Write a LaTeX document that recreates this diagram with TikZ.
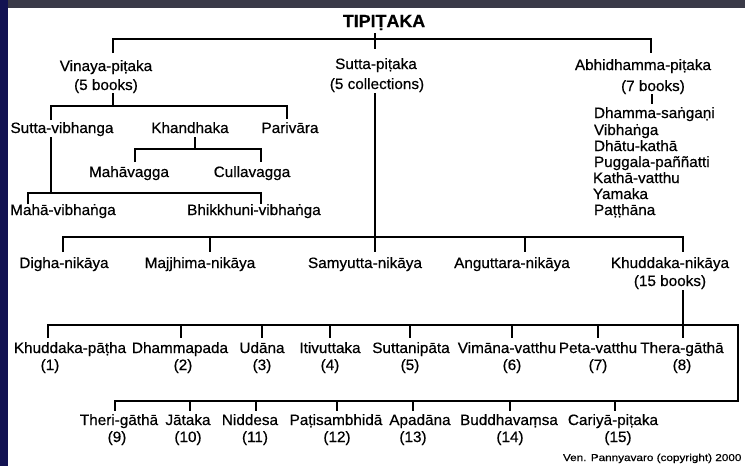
\documentclass[tikz,border=0pt]{standalone}
\usepackage{fontspec}
\setmainfont{Liberation Sans}[FakeStretch=1.02,FakeBold=0.5]
\definecolor{topbar}{RGB}{58,58,72}
\definecolor{leftbar}{RGB}{18,18,82}
\begin{document}
\begin{tikzpicture}[x=1pt,y=-1pt,line width=2.9pt,
  lbl/.style={font=\fontsize{15}{17}\selectfont,inner sep=0pt,outer sep=0pt,anchor=base},
  lst/.style={lbl,anchor=base west},
  ttl/.style={font=\bfseries\fontsize{17.5}{19}\selectfont,inner sep=0pt,outer sep=0pt,anchor=base},
  cpy/.style={font=\fontsize{10}{12}\selectfont,inner sep=0pt,outer sep=0pt,anchor=base west}]
\useasboundingbox (0,0) rectangle (745,466);
\fill[white] (0,0) rectangle (745,466);
\fill[topbar] (0,0) rectangle (745,8);
\fill[leftbar] (0,0) rectangle (8,466);

% texts
\node[ttl] (tip) at (384,27) {TIPIṬAKA};
\node[lbl] (vin) at (106,71) {Vinaya-piṭaka};
\node[lbl] (vinb) at (106,90) {(5 books)};
\node[lbl] (sut) at (376,69) {Sutta-piṭaka};
\node[lbl] (sutb) at (377,89) {(5 collections)};
\node[lbl] (abh) at (643,70) {Abhidhamma-piṭaka};
\node[lbl] (abhb) at (653,91) {(7 books)};
\node[lst] (a1) at (594,118) {Dhamma-saṅgaṇi};
\node[lst] (a2) at (594,135) {Vibhaṅga};
\node[lst] (a3) at (594,151) {Dhātu-kathā};
\node[lst] (a4) at (594,167) {Puggala-paññatti};
\node[lst] (a5) at (593,183) {Kathā-vatthu};
\node[lst] (a6) at (593,199) {Yamaka};
\node[lst] (a7) at (594,215) {Paṭṭhāna};

\node[lbl] (svb) at (62,133) {Sutta-vibhanga};
\node[lbl] (kha) at (190,133) {Khandhaka};
\node[lbl] (par) at (290,133) {Parivāra};
\node[lbl] (mhv) at (129,177) {Mahāvagga};
\node[lbl] (clv) at (252,177) {Cullavagga};
\node[lbl] (mvb) at (63,215) {Mahā-vibhaṅga};
\node[lbl] (bvb) at (254,215) {Bhikkhuni-vibhaṅga};

\node[lbl] (dig) at (64,268) {Digha-nikāya};
\node[lbl] (maj) at (200,268) {Majjhima-nikāya};
\node[lbl] (sam) at (365,268) {Samyutta-nikāya};
\node[lbl] (ang) at (512,268) {Anguttara-nikāya};
\node[lbl] (khu) at (670,268) {Khuddaka-nikāya};
\node[lbl] (khub) at (670,286) {(15 books)};

\node[lbl] (k1) at (70,353) {Khuddaka-pāṭha};
\node[lbl] (n1) at (50,370) {(1)};
\node[lbl] (k2) at (180,353) {Dhammapada};
\node[lbl] (n2) at (183,370) {(2)};
\node[lbl] (k3) at (262,353) {Udāna};
\node[lbl] (n3) at (262,370) {(3)};
\node[lbl] (k4) at (330,353) {Itivuttaka};
\node[lbl] (n4) at (330,370) {(4)};
\node[lbl] (k5) at (411,353) {Suttanipāta};
\node[lbl] (n5) at (410,370) {(5)};
\node[lbl] (k6) at (507,353) {Vimāna-vatthu};
\node[lbl] (n6) at (512,370) {(6)};
\node[lbl] (k7) at (598,353) {Peta-vatthu};
\node[lbl] (n7) at (598,370) {(7)};
\node[lbl] (k8) at (682,353) {Thera-gāthā};
\node[lbl] (n8) at (682,370) {(8)};

\node[lbl] (k9) at (119,425) {Theri-gāthā};
\node[lbl] (n9) at (117,442) {(9)};
\node[lbl] (k10) at (188,425) {Jātaka};
\node[lbl] (n10) at (188,442) {(10)};
\node[lbl] (k11) at (250,425) {Niddesa};
\node[lbl] (n11) at (255,442) {(11)};
\node[lbl] (k12) at (336,425) {Paṭisambhidā};
\node[lbl] (n12) at (337,442) {(12)};
\node[lbl] (k13) at (420,425) {Apadāna};
\node[lbl] (n13) at (413,442) {(13)};
\node[lbl] (k14) at (509,425) {Buddhavaṃsa};
\node[lbl] (n14) at (510,442) {(14)};
\node[lbl] (k15) at (613,425) {Cariyā-piṭaka};
\node[lbl] (n15) at (618,442) {(15)};

\node[cpy] (cp) at (563,461) {\scalebox{1.15}[1]{Ven. Pannyavaro (copyright) 2000}};

% connectors
\coordinate (tipA) at (375,33); \coordinate (tipB) at (375,49);
\draw (tipA) -- (tipB);
\coordinate (vinT) at (113,53); \coordinate (abhT) at (651,53);
\draw (vinT) -- (113,39) -- (651,39) -- (abhT);

\coordinate (vinD) at (113,93);
\draw (vinD) -- (113,106);
\coordinate (svbT) at (51,120); \coordinate (parT) at (287,119);
\draw (svbT) -- (51,106) -- (287,106) -- (parT);

\coordinate (khaD) at (195,137);
\draw (khaD) -- (195,149);
\coordinate (mhvT) at (135,162); \coordinate (clvT) at (261,162);
\draw (mhvT) -- (135,149) -- (261,149) -- (clvT);

\coordinate (svbD) at (51,137);
\draw (svbD) -- (51,193);
\coordinate (mvbT) at (28,204); \coordinate (bvbT) at (261,204);
\draw (mvbT) -- (28,193) -- (261,193) -- (bvbT);

\coordinate (abhD) at (652,94);
\draw (abhD) -- (652,104);

\coordinate (sutD) at (375,93);
\draw (sutD) -- (375,237);
\coordinate (digT) at (63,252); \coordinate (khuT) at (683,252);
\draw (digT) -- (63,237) -- (683,237) -- (khuT);
\foreach \x/\n in {210/majT,375/samT,525/angT}{
  \coordinate (\n) at (\x,252);
  \draw (\x,237) -- (\n);
}

\coordinate (khuD) at (683,290);
\draw (khuD) -- (683,325);
\coordinate (k1T) at (48,338); \coordinate (k9T) at (115,411);
\draw (k1T) -- (48,325) -- (738,325) -- (738,401) -- (115,401) -- (k9T);
\foreach \x/\n in {181/k2T,262/k3T,330/k4T,410/k5T,512/k6T,598/k7T,683/k8T}{
  \coordinate (\n) at (\x,338);
  \draw (\x,325) -- (\n);
}
\foreach \x/\n in {190/k10T,256/k11T,337/k12T,413/k13T,510/k14T,615/k15T}{
  \coordinate (\n) at (\x,411);
  \draw (\x,401) -- (\n);
}
\end{tikzpicture}
\end{document}
